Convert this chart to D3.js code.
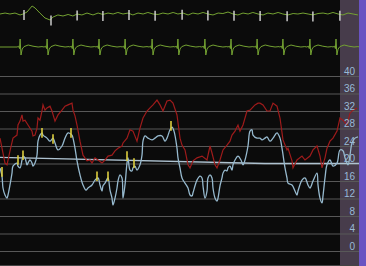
<!DOCTYPE html>
<html><head><meta charset="utf-8">
<script src="https://cdn.jsdelivr.net/npm/d3@7"></script>
<style>html,body{margin:0;padding:0;background:#0b0b0b;}svg{display:block;}</style>
</head><body>
<script>
// ---------- DATA ----------
// Trend panel (time in seconds, values in trend units)
const trendTicks = [0,4,8,12,16,20,24,28,32,36,40];
const redT = [0,5,7,10,13,17,18,20,22,23,25,28,32,33,35,37,38,40,42,43,45,47,50,52,55,58,62,65,68,72,73,75,77,80,83,87,90,92,95,98,102,105,108,112,115,118,122,123,127,130,133,137,140,143,147,150,153,157,160,163,167,170,173,177,180,182,185,188,190,193,197,202,207,210,212,215,217,220,223,227,230,232,235,238,240,243,247,250,255,258,260,263,267,270,273,277,280,283,287,288,292,293,297,302,305,310,313,317,320,322,325,327,330,333,337,340,343,347,350,353,357];
const redV = [25.8,20.1,19.7,22.9,25.8,26.5,28.8,29.7,31.1,29.7,29.9,28.8,27.4,26.3,26.5,28.1,30.4,29.9,32.0,33.4,32.2,32.7,33.1,32.0,29.7,31.1,32.2,33.1,33.4,33.8,32.2,30.9,28.8,25.1,21.9,20.6,20.8,20.1,21.3,20.8,20.1,20.8,21.7,21.9,22.9,23.5,24.0,24.7,25.8,27.7,27.4,25.1,28.1,30.4,32.0,32.7,33.4,34.5,33.4,32.0,34.3,34.5,33.8,31.1,25.8,24.2,23.1,19.7,19.0,20.6,21.3,21.7,20.8,24.0,22.4,19.7,19.0,20.8,23.1,24.2,25.1,26.5,27.4,28.8,27.4,28.8,32.0,32.2,33.4,33.8,33.8,33.4,32.0,32.0,33.8,33.1,30.4,25.4,23.1,23.5,20.6,19.0,20.8,21.7,20.8,21.7,23.1,24.0,21.7,19.0,21.3,23.5,25.1,25.8,27.4,30.4,29.9,28.8,31.5,32.2,32.7];
const blueT = [0,2,3,5,7,8,10,12,13,17,18,20,22,23,25,27,28,30,32,33,35,37,38,40,42,43,47,50,53,55,58,62,65,68,72,73,75,77,80,83,86,88,92,95,98,100,102,103,105,108,110,112,113,115,117,118,120,122,123,125,127,128,130,132,133,135,137,140,142,143,145,148,152,155,158,162,165,167,170,172,174,177,178,180,182,185,188,190,192,193,197,200,202,203,205,207,208,210,212,213,215,217,218,220,222,223,225,227,228,230,232,233,235,238,241,243,245,248,250,252,253,257,260,262,265,267,270,273,277,280,282,285,287,288,292,295,297,298,302,305,308,310,313,317,318,320,322,323,325,327,330,333,337,340,343,345,348,350,352,355,358];
const blueV = [19.0,17.1,14.4,12.8,12.1,12.8,15.1,17.8,19.4,20.1,19.4,19.0,20.8,21.7,21.3,19.7,20.1,20.8,20.1,19.4,20.1,21.9,25.1,26.5,27.0,26.5,25.8,25.1,25.8,24.7,23.1,24.0,25.8,27.0,26.5,25.8,23.5,20.6,17.4,15.1,13.9,14.4,15.1,16.2,16.7,15.1,13.7,14.9,15.5,16.7,13.9,12.1,10.5,12.1,14.4,16.0,17.4,16.7,12.1,15.1,20.1,21.3,18.5,18.3,19.0,19.4,18.5,19.7,21.9,25.1,26.3,25.8,25.4,25.8,26.3,26.3,25.1,25.8,27.7,28.3,27.4,23.5,21.3,19.0,16.7,15.5,14.4,12.8,12.6,13.3,16.2,17.1,16.7,14.9,12.1,13.7,16.7,17.4,16.7,14.4,12.1,11.4,12.1,14.9,16.7,17.8,18.5,18.3,19.0,19.4,18.5,19.7,20.8,21.7,20.8,19.7,20.8,24.0,27.4,27.7,26.5,25.8,25.8,25.4,25.8,26.1,25.1,25.8,27.0,25.8,23.5,19.0,16.7,15.5,15.1,13.7,12.8,13.7,16.2,16.7,15.1,14.4,16.0,17.8,15.1,12.1,11.0,12.6,16.7,19.7,20.8,19.4,20.1,23.1,22.9,21.3,19.7,21.9,24.7,25.8,26.1];
const markerT = [2,18,23,42,53,71,97,108,127,134,171];
const markerV = [18.1,20.8,21.9,27.0,25.6,27.0,17.1,17.1,21.7,20.1,28.6];
const limitT = [0,265,360];
const limitV = [21.4,20.0,20.0];

// ECG strips (time in seconds, amplitude in mV)
const ecg1T = [0,0.17,0.33,0.5,0.67,0.77,0.9,1.07,1.17,1.33,1.5,1.67,1.77,1.93,2.1,2.27,2.43,2.57,2.73,2.9,3.1,3.27,3.43,3.6,3.77,3.93,4.1,4.27,4.43,4.6,4.77,4.93,5.1,5.27,5.43,5.6,5.77,5.93,6.1,6.27,6.43,6.6,6.77,6.93,7.1,7.27,7.43,7.6,7.77,7.93,8.1,8.27,8.43,8.6,8.77,8.93,9.1,9.27,9.43,9.6,9.77,9.93,10.1,10.27,10.43,10.6,10.77,10.93,11.1,11.27,11.43,11.6,11.77,11.93];
const ecg1V = [0,0.12,0,0.12,-0.12,0,0.25,1.0,0.75,0.12,-0.5,-0.75,-0.38,-0.12,-0.25,-0.06,-0.25,0,-0.12,0.12,-0.12,0.12,-0.06,0.12,0,0.19,0,0.12,-0.12,0.12,0,0.19,0,-0.06,0.12,0,0.19,0,0.12,-0.12,0.12,0,0.19,0,-0.12,0.12,0.06,0.25,0,-0.12,0.12,0,0.19,0,-0.12,0.12,0,0.19,0,-0.12,0.06,0,0.12,0,-0.12,0.06,0.12,0,0.19,0,-0.12,0.12,0,-0.12];
const pulseMarkT = [0.8,1.7,2.57,3.43,4.3,5.17,6.07,6.93,7.8,8.67,9.57,10.43,11.33];
const beatT = [0.67,1.57,2.43,3.3,4.17,5.07,5.93,6.83,7.7,8.57,9.43,10.33,11.2];
const beatShapeDt = [-0.1,-0.05,-0.02,0,0.03,0.07,0.13,0.27,0.43,0.6,0.73];
const beatShapeV  = [0,0.1,-0.2,1.0,-1.0,-0.25,0.05,0.25,0.1,0,0.05];

// ---------- DRAW ----------
const W = 366, H = 266;
const svg = d3.select("body").append("svg").attr("width", W).attr("height", H);
svg.append("rect").attr("width", W).attr("height", H).attr("fill", "#0b0b0b");

// side strip
svg.append("rect").attr("x", 340).attr("y", 0).attr("width", 19).attr("height", H).attr("fill", "#473c4b");

const x = d3.scaleLinear().domain([0, 360]).range([0, 360]);
const y = d3.scaleLinear().domain([0, 40]).range([251, 76]);

// gridlines
svg.append("g").attr("transform", "translate(359,0)")
  .call(d3.axisLeft(y).tickValues(trendTicks).tickSize(359).tickFormat(""))
  .call(g => g.select(".domain").remove())
  .call(g => g.selectAll("line").attr("stroke", "#585858").attr("stroke-width", 1.2));
svg.append("line").attr("x1", 0).attr("x2", 359).attr("y1", 265.5).attr("y2", 265.5)
  .attr("stroke", "#444").attr("stroke-width", 1);

// limit line
svg.append("path").datum(limitT.map((t, i) => [t, limitV[i]]))
  .attr("fill", "none").attr("stroke", "#aec2d0").attr("stroke-width", 1.3)
  .attr("d", d3.line().x(d => x(d[0])).y(d => y(d[1])));

// red series
svg.append("path").datum(redT.map((t, i) => [t, redV[i]]))
  .attr("fill", "none").attr("stroke", "#9e1b1b").attr("stroke-width", 1.2)
  .attr("d", d3.line().x(d => x(d[0])).y(d => y(d[1])));

// blue series
svg.append("path").datum(blueT.map((t, i) => [t, blueV[i]]))
  .attr("fill", "none").attr("stroke", "#96b9ce").attr("stroke-width", 1.3)
  .attr("d", d3.line().curve(d3.curveCatmullRom.alpha(0.5)).x(d => x(d[0])).y(d => y(d[1])));

// yellow markers
svg.append("g").selectAll("line").data(markerT.map((t, i) => [t, markerV[i]])).join("line")
  .attr("x1", d => x(d[0])).attr("x2", d => x(d[0]))
  .attr("y1", d => y(d[1] + 1.1)).attr("y2", d => y(d[1] - 1.1))
  .attr("stroke", "#dccd3e").attr("stroke-width", 1.6);

// ECG strips
const ex = d3.scaleLinear().domain([0, 12]).range([0, 360]);
const e1y = d3.scaleLinear().domain([-1, 1]).range([22, 6]);
const e2y = d3.scaleLinear().domain([-1, 1]).range([55, 39]);
const ecgLine1 = d3.line().x(d => ex(d[0])).y(d => e1y(d[1]));
const ecgLine2 = d3.line().x(d => ex(d[0])).y(d => e2y(d[1]));
const ecg1 = ecg1T.map((t, i) => [t, ecg1V[i]]);
svg.append("path").datum(ecg1).attr("fill", "none").attr("stroke", "#74a232").attr("stroke-width", 1).attr("d", ecgLine1);

const ecg2 = [[0, 0]];
beatT.forEach(bt => beatShapeDt.forEach((dt, i) => ecg2.push([bt + dt, beatShapeV[i]])));
ecg2.push([12, 0]);
svg.append("path").datum(ecg2).attr("fill", "none").attr("stroke", "#74a232").attr("stroke-width", 1).attr("d", ecgLine2);

// pulse markers on strip 1
const interp1 = t => { const i = d3.bisector(d => d[0]).left(ecg1, t); const a = ecg1[Math.max(0, i - 1)], b = ecg1[Math.min(ecg1.length - 1, i)]; const f = b[0] === a[0] ? 0 : (t - a[0]) / (b[0] - a[0]); return a[1] + f * (b[1] - a[1]); };
svg.append("g").selectAll("line").data(pulseMarkT).join("line")
  .attr("x1", d => ex(d)).attr("x2", d => ex(d))
  .attr("y1", d => e1y(interp1(d)) - 3.5).attr("y2", d => e1y(interp1(d)) + 6.5)
  .attr("stroke", "#d8d8d8").attr("stroke-width", 1.4);

// right purple band
svg.append("rect").attr("x", 359).attr("y", 0).attr("width", W - 359).attr("height", H).attr("fill", "#6953c2");

// axis labels
svg.append("g").attr("transform", "translate(358,0)")
  .call(d3.axisLeft(y).tickValues(trendTicks).tickSize(0).tickPadding(3))
  .call(g => g.select(".domain").remove())
  .call(g => g.selectAll("text").attr("fill", "#98bad6").attr("font-size", 10)
    .attr("font-family", "Liberation Sans, Arial, sans-serif").attr("dy", "-0.18em"));
</script>
</body></html>
